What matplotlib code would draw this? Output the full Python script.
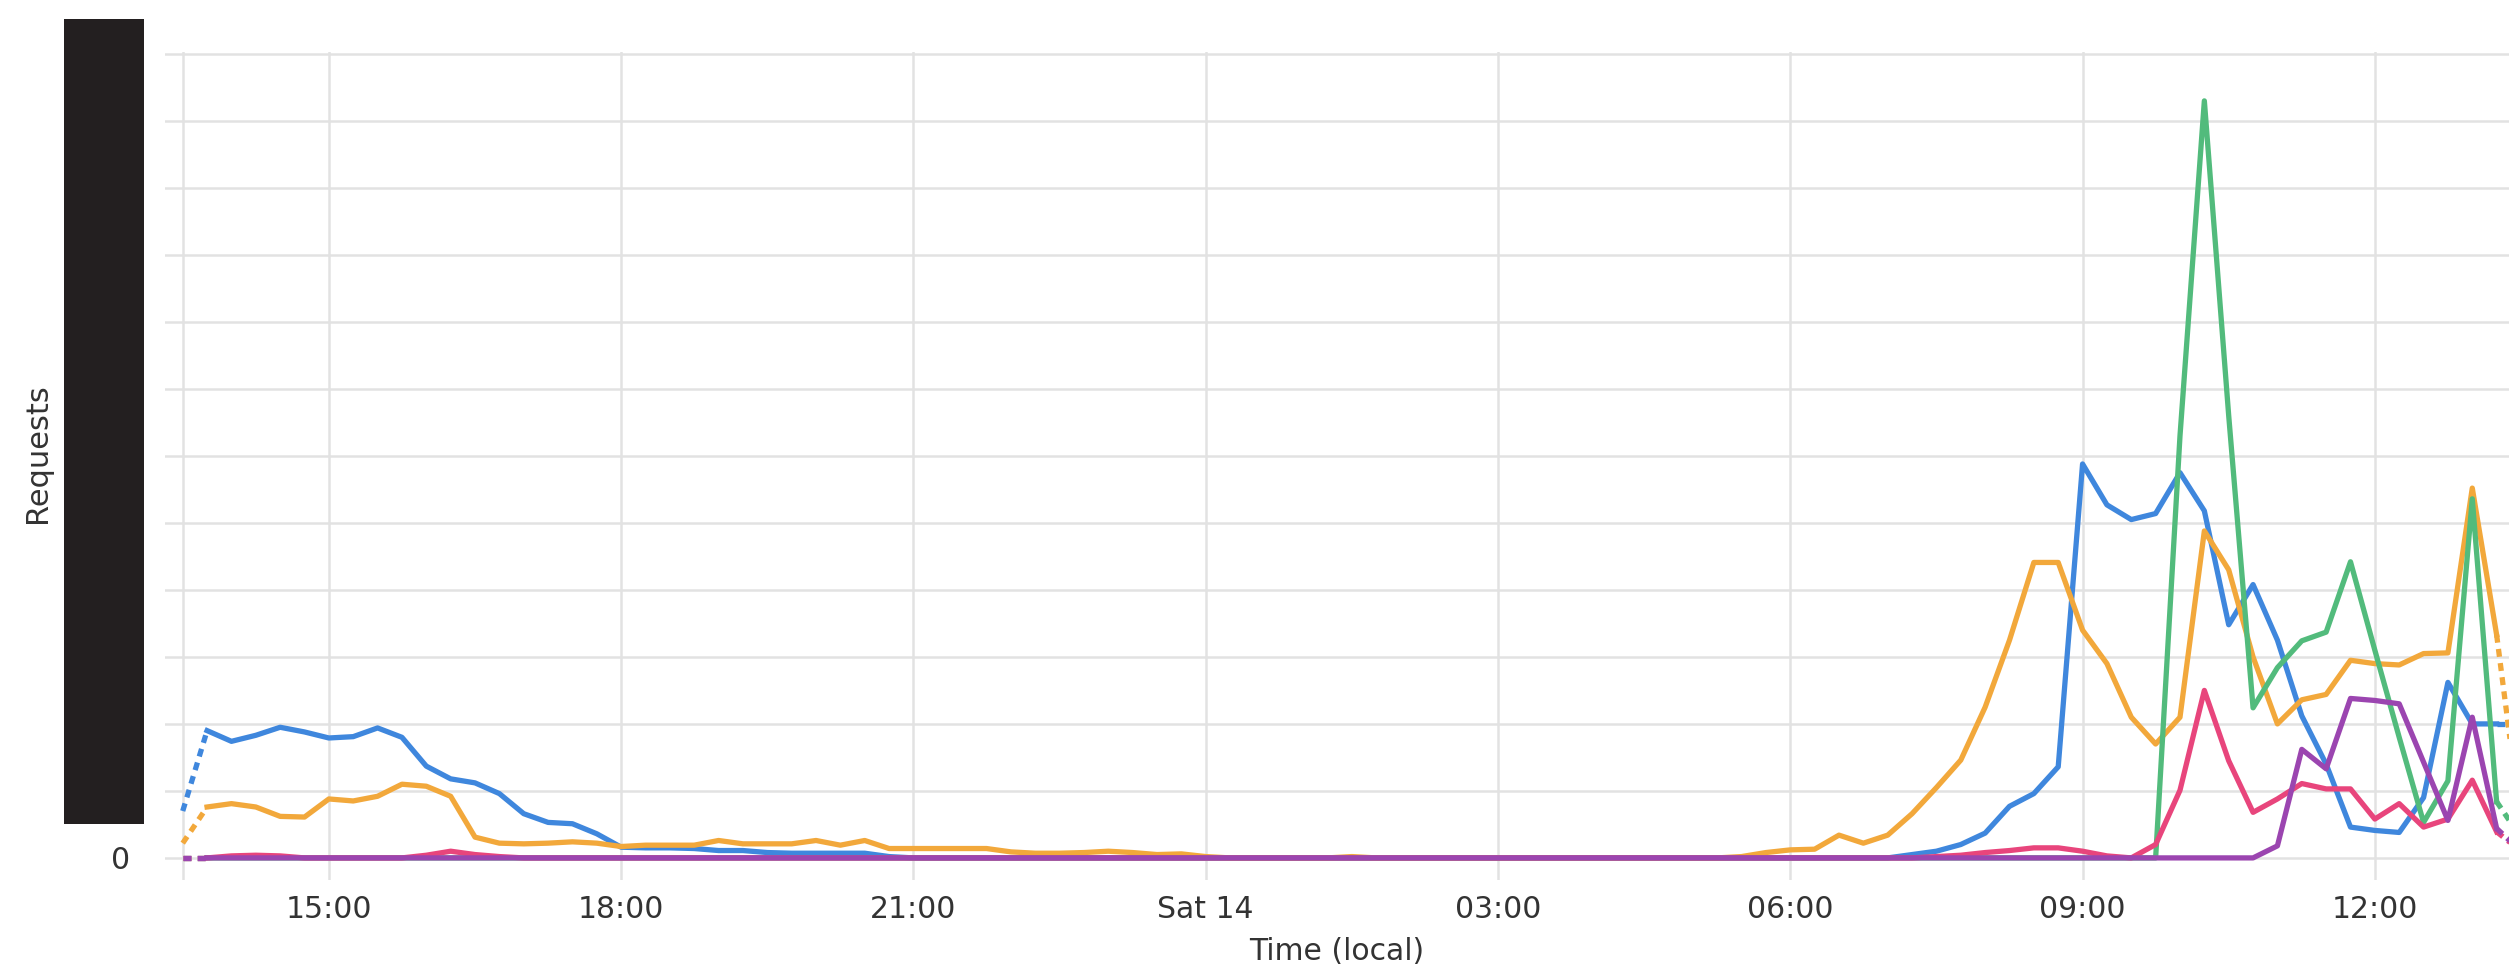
import numpy as np
import pandas as pd
import matplotlib
matplotlib.use('Agg')
import matplotlib.pyplot as plt
from matplotlib.patches import Rectangle

# 15-minute buckets, Fri 13 Mar 13:30 -> Sat 14 Mar 13:30
times = pd.date_range('2020-03-13 13:30', periods=97, freq='15min')

blue = [7.0, 19.0, 17.4, 18.3, 19.5, 18.8, 17.9, 18.1, 19.4, 18.0,
        13.7, 11.8, 11.2, 9.6, 6.6, 5.3, 5.1, 3.6, 1.6, 1.5,
        1.5, 1.4, 1.1, 1.1, 0.8, 0.7, 0.7, 0.7, 0.7, 0.2,
        0, 0, 0, 0, 0, 0, 0, 0, 0, 0,
        0, 0, 0, 0, 0, 0, 0, 0, 0, 0,
        0, 0, 0, 0, 0, 0, 0, 0, 0, 0,
        0, 0, 0, 0, 0, 0, 0, 0, 0, 0,
        0, 0.5, 1.0, 2.0, 3.7, 7.7, 9.6, 13.6, 58.8, 52.7,
        50.5, 51.4, 57.5, 51.8, 34.8, 40.8, 32.5, 21.2, 14.0, 4.6,
        4.1, 3.8, 9.0, 26.2, 20.0, 20.0, 20.0]

orange = [2.2, 7.6, 8.1, 7.6, 6.2, 6.1, 8.8, 8.5, 9.2, 11.0,
          10.7, 9.2, 3.1, 2.2, 2.1, 2.2, 2.4, 2.2, 1.7, 1.9,
          1.9, 1.9, 2.6, 2.1, 2.1, 2.1, 2.6, 1.9, 2.6, 1.4,
          1.4, 1.4, 1.4, 1.4, 0.9, 0.7, 0.7, 0.8, 1.0, 0.8,
          0.5, 0.6, 0.2, 0, 0, 0, 0, 0, 0.2, 0,
          0, 0, 0, 0, 0, 0, 0, 0, 0, 0,
          0, 0, 0, 0, 0.2, 0.8, 1.2, 1.3, 3.4, 2.2,
          3.4, 6.6, 10.5, 14.6, 22.5, 32.5, 44.1, 44.1, 34.0, 29.0,
          21.0, 17.0, 21.0, 48.8, 43.0, 30.0, 20.0, 23.6, 24.4, 29.5,
          29.0, 28.8, 30.5, 30.6, 55.2, 33.3, 5.0]

green = [0, 0, 0, 0, 0, 0, 0, 0, 0, 0,
         0, 0, 0, 0, 0, 0, 0, 0, 0, 0,
         0, 0, 0, 0, 0, 0, 0, 0, 0, 0,
         0, 0, 0, 0, 0, 0, 0, 0, 0, 0,
         0, 0, 0, 0, 0, 0, 0, 0, 0, 0,
         0, 0, 0, 0, 0, 0, 0, 0, 0, 0,
         0, 0, 0, 0, 0, 0, 0, 0, 0, 0,
         0, 0, 0, 0, 0, 0, 0, 0, 0, 0,
         0, 0, 63.0, 113.0, 66.0, 22.4, 28.4, 32.4, 33.7, 44.2,
         31.0, 18.0, 5.3, 11.5, 53.6, 8.4, 3.0]

pink = [0, 0, 0.3, 0.4, 0.3, 0, 0, 0, 0, 0,
        0.4, 1.0, 0.5, 0.2, 0, 0, 0, 0, 0, 0,
        0, 0, 0, 0, 0, 0, 0, 0, 0, 0,
        0, 0, 0, 0, 0, 0, 0, 0, 0, 0,
        0, 0, 0, 0, 0, 0, 0, 0, 0, 0,
        0, 0, 0, 0, 0, 0, 0, 0, 0, 0,
        0, 0, 0, 0, 0, 0, 0, 0, 0, 0,
        0, 0, 0.2, 0.4, 0.8, 1.1, 1.5, 1.5, 1.0, 0.3,
        0, 2.0, 10.1, 25.0, 14.5, 6.8, 8.8, 11.1, 10.3, 10.3,
        5.8, 8.1, 4.6, 5.8, 11.6, 3.9, 1.0]

purple = [0, 0, 0, 0, 0, 0, 0, 0, 0, 0,
          0, 0, 0, 0, 0, 0, 0, 0, 0, 0,
          0, 0, 0, 0, 0, 0, 0, 0, 0, 0,
          0, 0, 0, 0, 0, 0, 0, 0, 0, 0,
          0, 0, 0, 0, 0, 0, 0, 0, 0, 0,
          0, 0, 0, 0, 0, 0, 0, 0, 0, 0,
          0, 0, 0, 0, 0, 0, 0, 0, 0, 0,
          0, 0, 0, 0, 0, 0, 0, 0, 0, 0,
          0, 0, 0, 0, 0, 0, 1.8, 16.2, 13.3, 23.8,
          23.5, 23.0, 14.3, 5.6, 21.0, 4.4, 1.0]

series = [(blue, '#3f87dd'), (orange, '#f2a83b'), (green, '#52bb7c'),
          (pink, '#e8457c'), (purple, '#9b45b0')]

tick_times = pd.to_datetime(['2020-03-13 15:00', '2020-03-13 18:00', '2020-03-13 21:00',
                             '2020-03-14 00:00', '2020-03-14 03:00', '2020-03-14 06:00',
                             '2020-03-14 09:00', '2020-03-14 12:00'])
tick_labels = ['15:00', '18:00', '21:00', 'Sat 14', '03:00', '06:00', '09:00', '12:00']
y_ticks = [0, 10, 20, 30, 40, 50, 60, 70, 80, 90, 100, 110, 120]

txt = '#333333'
fig = plt.figure(figsize=(25.09, 9.71), dpi=100)
ax = fig.add_axes([0.0658, 0.0937, 0.9342, 0.8528])

for vals, color in series:
    v = np.array(vals, dtype=float)
    ax.plot(times[1:96], v[1:96], color=color, lw=3.8, solid_joinstyle='round', zorder=3)
    # first and last buckets are incomplete -> dashed
    ax.plot(times[:2], v[:2], color=color, lw=3.8, ls=(0, (1.5, 1.2)), zorder=3)
    ax.plot(times[95:], v[95:], color=color, lw=3.8, ls=(0, (1.5, 1.2)), zorder=3)

ax.set_xlim(pd.Timestamp('2020-03-13 13:19:08'), pd.Timestamp('2020-03-14 13:22:37'))
ax.set_ylim(-3.3, 120.3)
ax.set_xticks(tick_times)
ax.set_xticklabels(tick_labels)
ax.set_yticks(y_ticks)
ax.set_yticklabels(['0'] + [''] * (len(y_ticks) - 1))
ax.grid(True, color='#e2e2e2', lw=1.8, zorder=0)
ax.axvline(times[0], color='#e2e2e2', lw=1.8, zorder=0)
for s in ax.spines.values():
    s.set_visible(False)
ax.tick_params(length=0, labelsize=21.5, colors=txt)
ax.tick_params(axis='y', pad=25)
ax.tick_params(axis='x', pad=11)
ax.set_xlabel('Time (local)', fontsize=21.5, color=txt, labelpad=9)

fig.text(0.0151, 0.5335, 'Requests', rotation=90, fontsize=22, color=txt,
         ha='center', va='center')
fig.add_artist(Rectangle((0.0255, 0.1514), 0.0319, 0.829, transform=fig.transFigure,
                         facecolor='#231f20', edgecolor='none'))

plt.savefig('out.png', dpi=100)
